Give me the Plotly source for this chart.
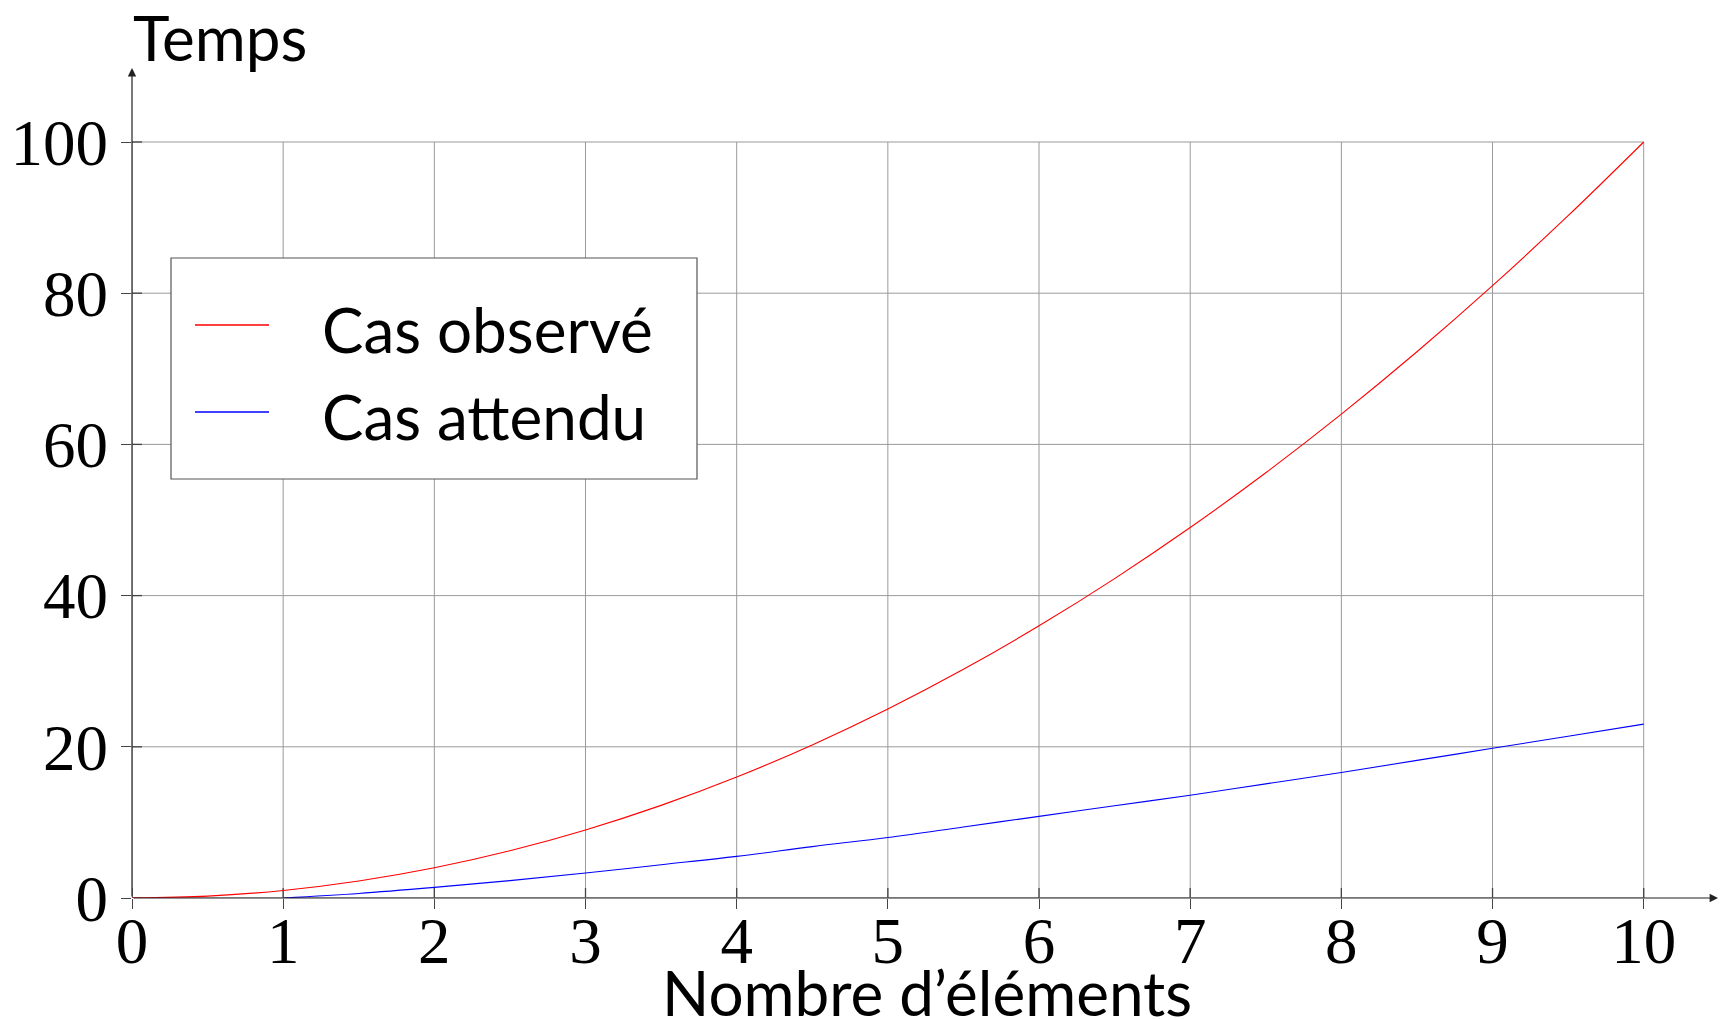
import plotly.graph_objects as go

# Sample points along the horizontal axis
n_elements = [0, 0.5, 1, 1.5, 2, 2.5, 3, 3.5, 4, 4.5, 5, 5.5, 6, 6.5, 7, 7.5, 8, 8.5, 9, 9.5, 10]
temps_observe = [0, 0.25, 1, 2.25, 4, 6.25, 9, 12.25, 16, 20.25, 25, 30.25, 36, 42.25, 49,
                 56.25, 64, 72.25, 81, 90.25, 100]

n_attendu = [1, 1.5, 2, 2.5, 3, 3.5, 4, 4.5, 5, 5.5, 6, 6.5, 7, 7.5, 8, 8.5, 9, 9.5, 10]
temps_attendu = [0, 0.6, 1.4, 2.3, 3.3, 4.4, 5.5, 6.8, 8.0, 9.4, 10.8, 12.2, 13.6, 15.1, 16.6,
                 18.2, 19.8, 21.4, 23.0]

x_ticks = [0, 1, 2, 3, 4, 5, 6, 7, 8, 9, 10]
y_ticks = [0, 20, 40, 60, 80, 100]

series_names = ["Cas observé", "Cas attendu"]
series_colors = ["#ff0000", "#0000ff"]

W, H = 1727, 1020
ML, MR, MT, MB = 132, 9, 68, 122
PW, PH = W - ML - MR, H - MT - MB

X_MAX = 10 * PW / 1511.7
Y_MAX = 100 * PH / 756.0


def px_x(p):
    return (p - ML) / PW


def px_y(p):
    return (H - MB - p) / PH


SERIF = "Liberation Serif"
SANS = "Lato"
SANS_SIZE = 62
AXIS_COL = "#444444"
GRID_COL = "#9a9a9a"

fig = go.Figure()
fig.add_trace(go.Scatter(x=n_elements, y=temps_observe, mode="lines", name=series_names[0],
                         line=dict(color=series_colors[0], width=1.1, shape="spline"),
                         showlegend=False))
fig.add_trace(go.Scatter(x=n_attendu, y=temps_attendu, mode="lines", name=series_names[1],
                         line=dict(color=series_colors[1], width=1.1, shape="spline"),
                         showlegend=False))

shapes = []
# grid limited to the data rectangle, plus the inner half of each tick
for v in x_ticks:
    shapes.append(dict(type="line", xref="x", yref="y", x0=v, x1=v, y0=0, y1=y_ticks[-1],
                       line=dict(color=GRID_COL, width=1), layer="below"))
    shapes.append(dict(type="line", xref="x", yref="y", x0=v, x1=v, ysizemode="pixel",
                       yanchor=0, y0=0, y1=10, line=dict(color=AXIS_COL, width=1.3), layer="below"))
for v in y_ticks:
    shapes.append(dict(type="line", xref="x", yref="y", x0=0, x1=x_ticks[-1], y0=v, y1=v,
                       line=dict(color=GRID_COL, width=1), layer="below"))
    shapes.append(dict(type="line", xref="x", yref="y", y0=v, y1=v, xsizemode="pixel",
                       xanchor=0, x0=0, x1=10, line=dict(color=AXIS_COL, width=1.3), layer="below"))

# legend frame and samples
shapes.append(dict(type="rect", xref="paper", yref="paper", x0=px_x(171), x1=px_x(697),
                   y0=px_y(479), y1=px_y(258), line=dict(color="#555555", width=1.2),
                   fillcolor="white", layer="above"))
legend_rows = [325, 412]
for name, col, row in zip(series_names, series_colors, legend_rows):
    shapes.append(dict(type="line", xref="paper", yref="paper", x0=px_x(195), x1=px_x(269),
                       y0=px_y(row), y1=px_y(row), line=dict(color=col, width=1.3), layer="above"))

annotations = [
    # axes with arrow heads
    dict(x=X_MAX, y=0, ax=0, ay=0, xref="x", yref="y", axref="x", ayref="y", text="",
         showarrow=True, arrowhead=2, arrowsize=1.4, arrowwidth=1.2, arrowcolor="#222222"),
    dict(x=0, y=Y_MAX, ax=0, ay=0, xref="x", yref="y", axref="x", ayref="y", text="",
         showarrow=True, arrowhead=2, arrowsize=1.4, arrowwidth=1.2, arrowcolor="#222222"),
    dict(x=px_x(131), y=px_y(37), xref="paper", yref="paper", xanchor="left", yanchor="middle",
         text="Temps", showarrow=False, font=dict(family=SANS, size=SANS_SIZE, color="black")),
    dict(x=px_x(927), y=px_y(992), xref="paper", yref="paper", xanchor="center",
         yanchor="middle", text="Nombre d’éléments", showarrow=False,
         font=dict(family=SANS, size=SANS_SIZE, color="black")),
]
for name, row in zip(series_names, [329, 416]):
    annotations.append(dict(x=px_x(320), y=px_y(row), xref="paper", yref="paper",
                            xanchor="left", yanchor="middle", text=name, showarrow=False,
                            font=dict(family=SANS, size=SANS_SIZE, color="black")))

fig.update_layout(
    width=W, height=H,
    margin=dict(l=ML, r=MR, t=MT, b=MB, pad=0),
    paper_bgcolor="white", plot_bgcolor="white",
    shapes=shapes, annotations=annotations,
    xaxis=dict(range=[0, X_MAX], tickvals=x_ticks, ticktext=[str(v) for v in x_ticks],
               showgrid=False, zeroline=False, showline=False, ticks="outside", ticklen=10,
               tickwidth=1.3, tickcolor=AXIS_COL, ticklabelstandoff=-24,
               tickfont=dict(family=SERIF, size=65, color="black")),
    yaxis=dict(range=[0, Y_MAX], tickvals=y_ticks, ticktext=[str(v) for v in y_ticks],
               showgrid=False, zeroline=False, showline=False, ticks="outside", ticklen=10,
               tickwidth=1.3, tickcolor=AXIS_COL,
               tickfont=dict(family=SERIF, size=65, color="black")),
)

fig.write_html("out.html")
